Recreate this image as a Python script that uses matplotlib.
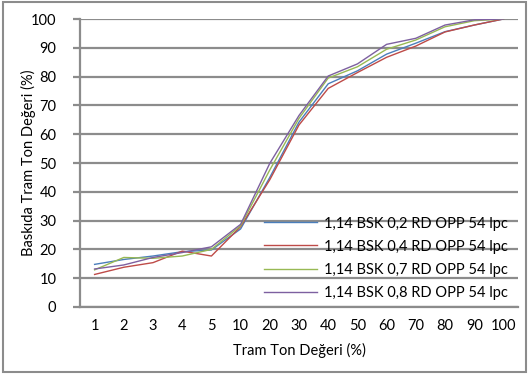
import matplotlib
matplotlib.use("Agg")
import matplotlib.pyplot as plt
from matplotlib.patches import Rectangle

plt.rcParams['font.family'] = ['Lato', 'DejaVu Sans']

categories = ["1", "2", "3", "4", "5", "10", "20", "30", "40", "50", "60", "70", "80", "90", "100"]
s02 = [14.8, 16.5, 17.7, 19.2, 19.8, 27.1, 45.0, 64.2, 77.5, 82.0, 87.8, 91.6, 95.6, 97.9, 100]
s04 = [11.3, 13.8, 15.4, 19.4, 17.7, 27.9, 44.2, 63.2, 75.9, 81.4, 86.7, 90.6, 95.5, 97.9, 100]
s07 = [12.9, 17.2, 16.9, 17.7, 20.0, 28.2, 47.6, 65.5, 79.5, 83.4, 89.5, 92.7, 97.3, 99.4, 100]
s08 = [13.2, 14.6, 17.2, 18.9, 20.9, 28.7, 49.9, 66.5, 80.2, 84.4, 91.2, 93.3, 97.9, 99.7, 100]
labels = ["1,14 BSK 0,2 RD OPP 54 lpc", "1,14 BSK 0,4 RD OPP 54 lpc",
          "1,14 BSK 0,7 RD OPP 54 lpc", "1,14 BSK 0,8 RD OPP 54 lpc"]
colors = ["#4A7EBB", "#BE4B48", "#98B954", "#7D60A0"]
yticks = [0, 10, 20, 30, 40, 50, 60, 70, 80, 90, 100]

fig = plt.figure(figsize=(5.28, 3.78), dpi=100)
ax = fig.add_axes([80/528, 1-307/378, 438/528, 288/378])

x = list(range(len(categories)))
for ys, lab, c in zip([s02, s04, s07, s08], labels, colors):
    ax.plot(x, ys, color=c, lw=1.0, label=lab)

ax.set_xlim(-0.5, len(categories) - 0.5)
ax.set_ylim(0, 100)
ax.set_yticks(yticks)
ax.set_xticks(x)
ax.set_xticklabels(categories)
gray = "#8C8C8C"
ax.grid(axis='y', color=gray, lw=1.6, zorder=0)
ax.set_axisbelow(True)
for sp in ['top', 'right']:
    ax.spines[sp].set_visible(False)
for sp in ['left', 'bottom']:
    ax.spines[sp].set_color(gray)
    ax.spines[sp].set_linewidth(1.6)
ax.tick_params(axis='y', length=5, width=1.6, color=gray, labelsize=10.5, pad=12)
ax.tick_params(axis='x', length=0, labelsize=10.5, pad=9)
ax.set_xlabel("Tram Ton Değeri (%)", fontsize=10.5, labelpad=7)
ax.set_ylabel("Baskıda Tram Ton Değeri (%)", fontsize=10.5, labelpad=-4)

leg = ax.legend(loc='lower right', bbox_to_anchor=(1.0, -0.01), frameon=False,
                fontsize=10.5, handlelength=3.6, handletextpad=0.5,
                labelspacing=0.62, borderaxespad=0.3)

fig.patches.append(Rectangle((3/528, 1-372/378), 523/528, 370/378,
                             transform=fig.transFigure, fill=False,
                             edgecolor=gray, lw=1.5))

fig.savefig("out.png", dpi=100)
